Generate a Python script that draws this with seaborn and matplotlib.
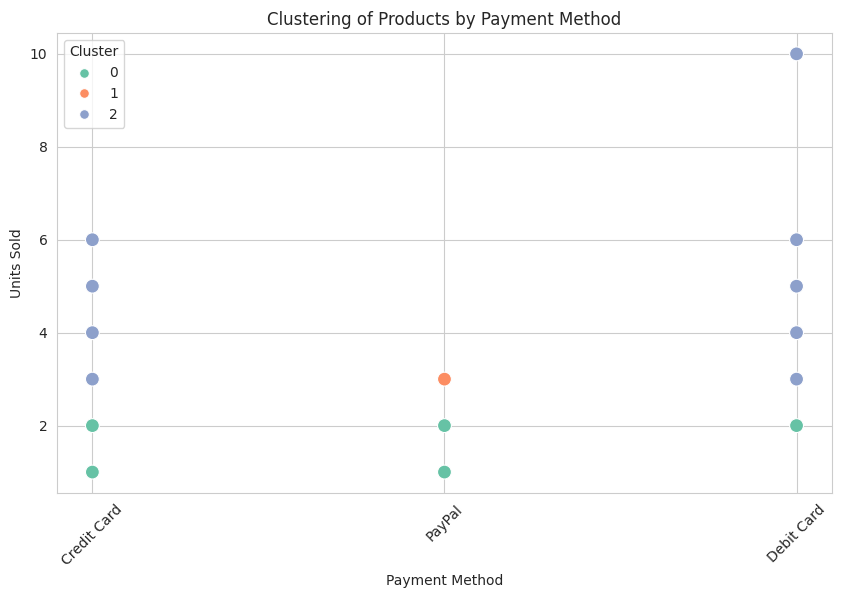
import matplotlib
matplotlib.use("Agg")
import matplotlib.pyplot as plt
import pandas as pd
import seaborn as sns

payment_method = [
    "Credit Card", "Credit Card", "Credit Card", "Credit Card", "Credit Card", "Credit Card",
    "PayPal", "PayPal", "PayPal",
    "Debit Card", "Debit Card", "Debit Card", "Debit Card", "Debit Card", "Debit Card",
]
units_sold = [1, 2, 3, 4, 5, 6, 1, 2, 3, 2, 3, 4, 5, 6, 10]
cluster = [0, 0, 2, 2, 2, 2, 0, 0, 1, 0, 2, 2, 2, 2, 2]

df = pd.DataFrame({
    "Payment Method": payment_method,
    "Units Sold": units_sold,
    "Cluster": cluster,
})

sns.set_style("whitegrid")

fig = plt.figure(figsize=(8.41, 5.99), dpi=100)
ax = fig.add_axes([0.068, 0.177, 0.921, 0.768])

sns.scatterplot(
    data=df,
    x="Payment Method",
    y="Units Sold",
    hue="Cluster",
    palette="Set2",
    s=100,
    ax=ax,
)
ax.set_title("Clustering of Products by Payment Method")
ax.tick_params(axis="x", rotation=45)
leg = ax.legend(title="Cluster", loc="upper left")
# smaller legend dots, as in the original
for h in leg.legend_handles:
    h.set_markersize(7)

fig.savefig("out.png", dpi=100)
